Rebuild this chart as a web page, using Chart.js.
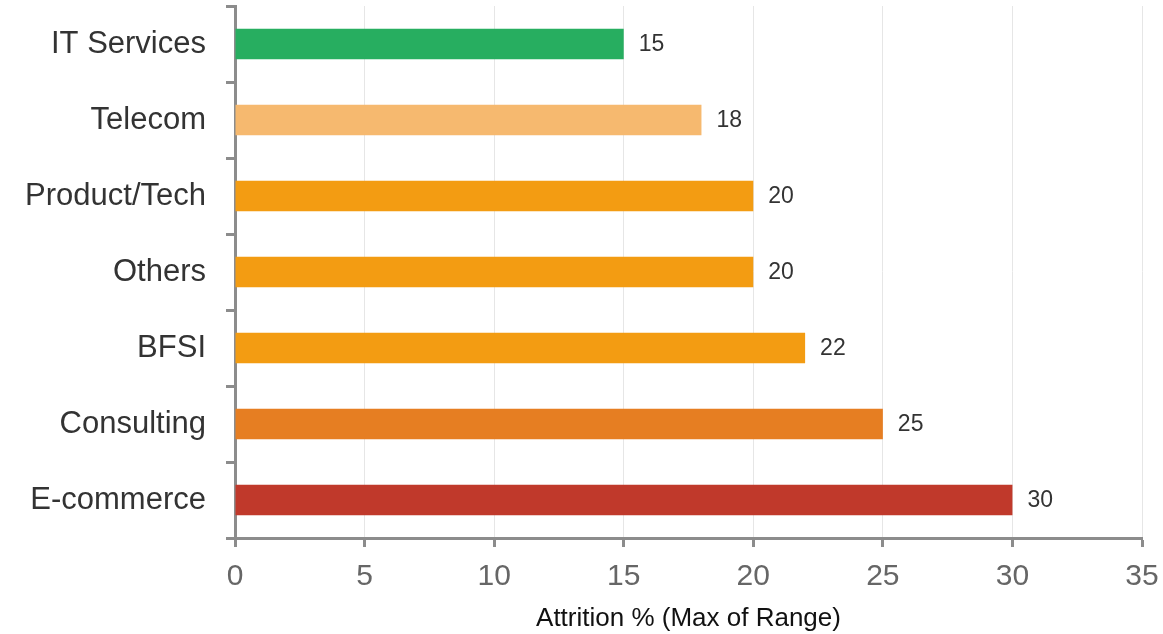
<!DOCTYPE html>
<html>
<head>
<meta charset="utf-8">
<script src="https://cdn.jsdelivr.net/npm/chart.js@4.4.1/dist/chart.umd.min.js"></script>
<style>
  html, body { margin: 0; padding: 0; background: #ffffff; }
  #wrap { width: 1163px; height: 634px; position: relative; }
</style>
</head>
<body>
<div id="wrap"><canvas id="chart" width="1163" height="634"></canvas></div>
<script>
// Attrition by sector (max of reported range, %)
const sectors = ['IT Services', 'Telecom', 'Product/Tech', 'Others', 'BFSI', 'Consulting', 'E-commerce'];
const attrition = [15, 18, 20, 20, 22, 25, 30];
const barColors = ['#27ae60', '#f6b96f', '#f39c12', '#f39c12', '#f39c12', '#e67e22', '#c0392b'];
const xTicks = [0, 5, 10, 15, 20, 25, 30, 35];
const xTitle = 'Attrition % (Max of Range)';

const FONT = '"Liberation Sans", Arial, sans-serif';

// Writes each bar's value just past its end
const valueLabels = {
  id: 'valueLabels',
  afterDatasetsDraw(chart) {
    const ctx = chart.ctx;
    const meta = chart.getDatasetMeta(0);
    ctx.save();
    ctx.font = '23px ' + FONT;
    ctx.fillStyle = '#333333';
    ctx.textAlign = 'left';
    ctx.textBaseline = 'middle';
    meta.data.forEach((bar, i) => {
      ctx.fillText(String(attrition[i]), bar.x + 15, bar.y + 1);
    });
    ctx.restore();
  }
};

new Chart(document.getElementById('chart'), {
  type: 'bar',
  data: {
    labels: sectors,
    datasets: [{
      data: attrition,
      backgroundColor: barColors,
      borderWidth: 0,
      barPercentage: 0.8,
      categoryPercentage: 0.5
    }]
  },
  options: {
    indexAxis: 'y',
    responsive: false,
    animation: false,
    layout: { padding: { top: 6, right: 21, left: 0, bottom: 0 } },
    plugins: {
      legend: { display: false },
      tooltip: { enabled: false }
    },
    scales: {
      x: {
        min: 0,
        max: 35,
        afterBuildTicks(axis) { axis.ticks = xTicks.map(v => ({ value: v })); },
        afterFit(axis) {
          axis.paddingRight = 0;
          axis.paddingLeft = 0;
        },
        border: { display: true, color: '#8c8c8c', width: 3 },
        grid: { color: '#e6e6e6', lineWidth: 1, tickColor: '#8c8c8c', tickLength: 9, tickWidth: 3 },
        ticks: {
          color: '#666666',
          font: { family: FONT, size: 30 },
          padding: 12,
          maxRotation: 0
        },
        title: {
          display: true,
          text: xTitle,
          color: '#111111',
          font: { family: FONT, size: 26, lineHeight: 1 },
          padding: { top: -1, bottom: 2 }
        }
      },
      y: {
        afterFit(axis) {
          axis.width = 235;
          axis.paddingTop = 0;
          axis.paddingBottom = 0;
        },
        border: { display: true, color: '#8c8c8c', width: 3 },
        grid: { offset: true, drawOnChartArea: false, tickColor: '#8c8c8c', tickLength: 9, tickWidth: 3 },
        ticks: {
          color: '#333333',
          font: { family: FONT, size: 31 },
          padding: 20
        }
      }
    }
  },
  plugins: [valueLabels]
});
</script>
</body>
</html>
